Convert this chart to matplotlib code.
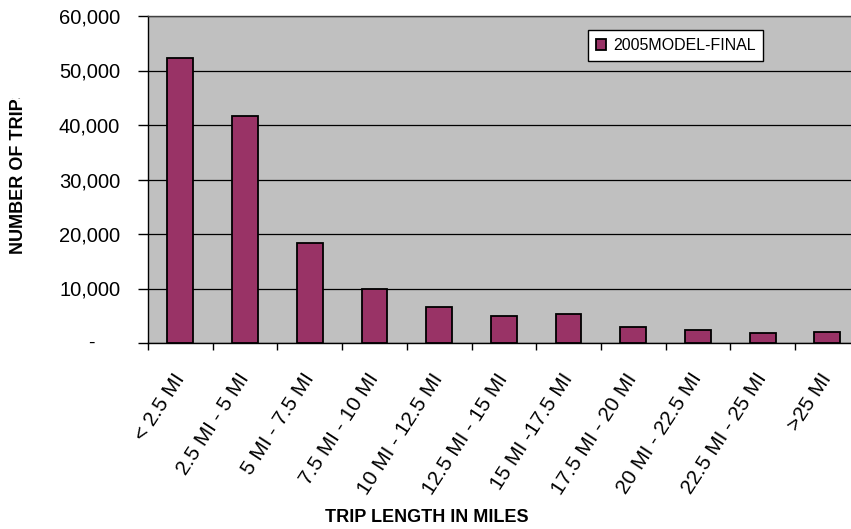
import matplotlib
matplotlib.use("Agg")
import matplotlib.pyplot as plt
import matplotlib.transforms as mtransforms
from matplotlib.ticker import FuncFormatter
import numpy as np

# trip length distribution, model run 2005
categories = ["< 2.5 MI", "2.5 MI - 5 MI", "5 MI - 7.5 MI", "7.5 MI - 10 MI",
              "10 MI - 12.5 MI", "12.5 MI - 15 MI", "15 MI -17.5 MI",
              "17.5 MI - 20 MI", "20 MI - 22.5 MI", "22.5 MI - 25 MI", ">25 MI"]
trips = [52350, 41700, 18400, 9850, 6550, 5030, 5400, 2940, 2390, 1840, 2090]
series_name = "2005MODEL-FINAL"
y_ticks = [0, 10000, 20000, 30000, 40000, 50000, 60000]

plt.rcParams['font.family'] = ['Liberation Sans', 'DejaVu Sans']

W, H = 851, 529
fig = plt.figure(figsize=(W / 100, H / 100), dpi=100)
fig.patch.set_facecolor('white')

# plot area runs slightly past the right edge like the exported sheet
ax = fig.add_axes([148 / W, 1 - 343 / H, 711.7 / W, 327 / H])
ax.set_facecolor('#C0C0C0')

x = np.arange(len(categories))
ax.bar(x, trips, width=0.4, color='#993366', edgecolor='black',
       linewidth=1.3, label=series_name, zorder=3)

ax.set_xlim(-0.5, len(categories) - 0.5)
ax.set_ylim(0, 60000)
ax.set_yticks(y_ticks)
ax.yaxis.set_major_formatter(FuncFormatter(lambda v, p: "" if v == 0 else f"{v:,.0f}"))
ax.yaxis.grid(True, color='black', linewidth=0.9)
ax.set_axisbelow(True)

# zero shown as a dash, accounting style
ax.text(-0.0794, 0, "-", transform=ax.get_yaxis_transform(),
        ha='center', va='center', fontsize=14)

# ticks at category edges, labels at category centres
ax.set_xticks(np.arange(len(categories) + 1) - 0.5)
ax.set_xticklabels([])
ax.set_xticks(x, minor=True)
ax.set_xticklabels(categories, minor=True, rotation=57, ha='right',
                   va='top', rotation_mode='anchor', fontsize=15)
ax.tick_params(axis='x', which='major', length=5, width=1, color='black')
ax.tick_params(axis='x', which='minor', length=0, pad=15)
ax.tick_params(axis='y', length=7, width=1, pad=13, labelsize=14.5)

# nudge the slanted labels so their ends sit under the bar centres
nudge = mtransforms.ScaledTranslation(-8 / 100, -6 / 100, fig.dpi_scale_trans)
for lbl in ax.get_xticklabels(minor=True):
    lbl.set_transform(lbl.get_transform() + nudge)

for side in ['left', 'bottom', 'top']:
    ax.spines[side].set_color('black')
    ax.spines[side].set_linewidth(1)
ax.spines['top'].set_color('#404040')
ax.spines['right'].set_visible(False)

leg = ax.legend(loc='upper left', bbox_to_anchor=(588 / W, 1 - 30 / H),
                bbox_transform=fig.transFigure, fontsize=11.5, frameon=True,
                fancybox=False, framealpha=1, edgecolor='black',
                handlelength=0.65, handleheight=0.65, handletextpad=0.4,
                borderpad=0.5, borderaxespad=0)
leg.get_frame().set_linewidth(1)

fig.text(427 / W, 1 - 517 / H, "TRIP LENGTH IN MILES", ha='center',
         va='center', fontsize=13, fontweight='bold')
ylab = fig.text(19 / W, 1 - 170 / H, "NUMBER OF TRIPS", rotation=90,
                ha='center', va='center', fontsize=13, fontweight='bold')
# label is cut off at the top
ylab.set_clip_box(mtransforms.Bbox.from_extents(0, 0, W, H - 98))

fig.savefig('out.png', dpi=100)
